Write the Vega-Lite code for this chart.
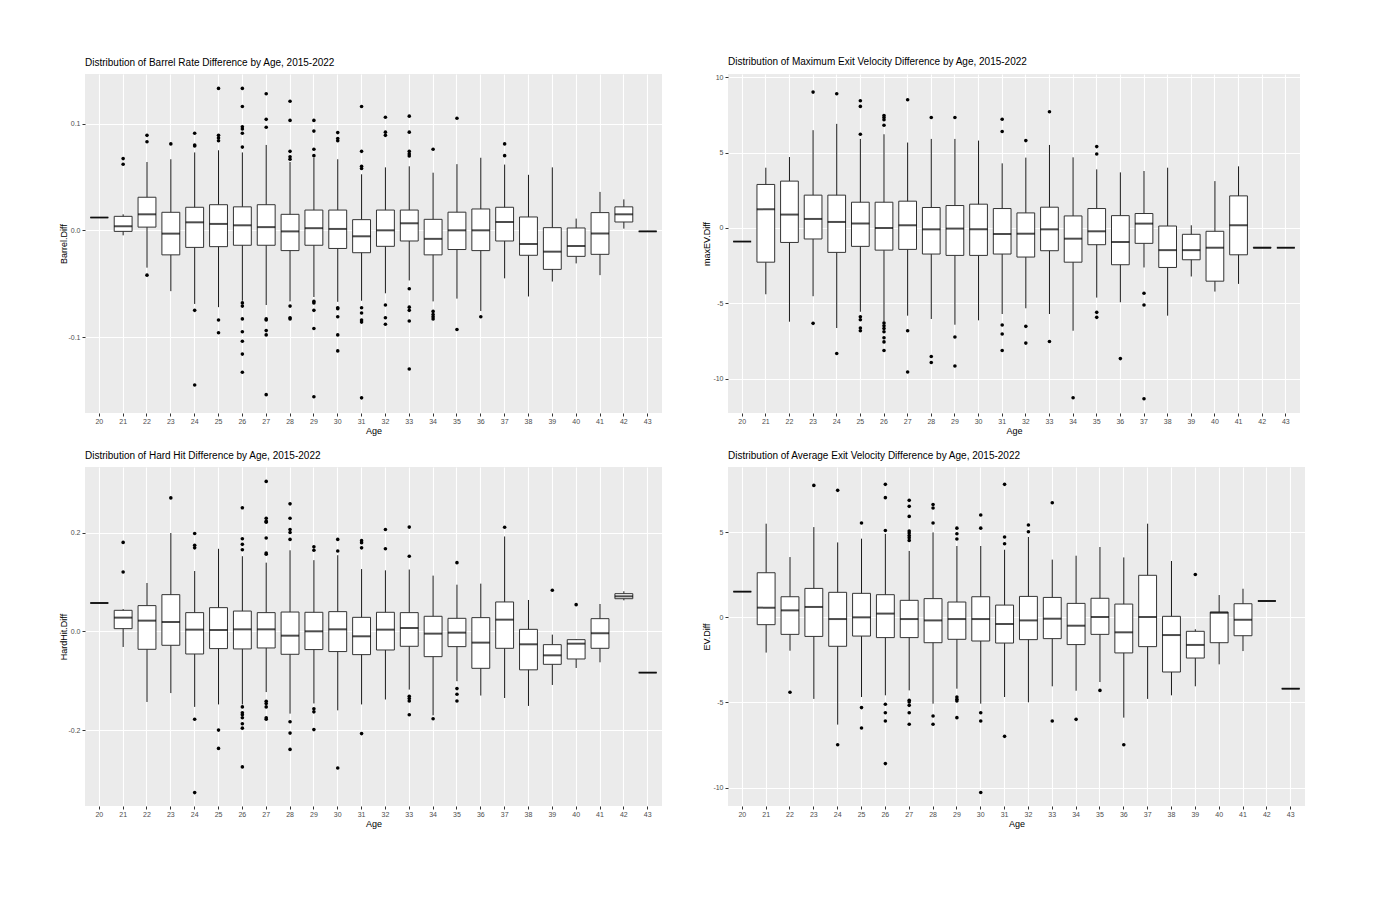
{
  "$schema": "https://vega.github.io/schema/vega-lite/v6.json",
  "padding": {"left": 59, "top": 57, "right": 5, "bottom": 5},
  "background": "white",
  "datasets": {
    "barrel": [
      {"age": 20, "lo": 0.012, "q1": 0.012, "med": 0.012, "q3": 0.012, "hi": 0.012, "out": []},
      {"age": 21, "lo": -0.0047, "q1": -0.001, "med": 0.0038, "q3": 0.0131, "hi": 0.015, "out": [0.0672, 0.0619]},
      {"age": 22, "lo": -0.035, "q1": 0.003, "med": 0.015, "q3": 0.031, "hi": 0.064, "out": [0.089, 0.083, -0.042]},
      {"age": 23, "lo": -0.057, "q1": -0.023, "med": -0.0031, "q3": 0.0169, "hi": 0.0666, "out": [0.081]},
      {"age": 24, "lo": -0.069, "q1": -0.016, "med": 0.0075, "q3": 0.0216, "hi": 0.073, "out": [0.091, 0.08, 0.079, -0.075, -0.145]},
      {"age": 25, "lo": -0.072, "q1": -0.0153, "med": 0.006, "q3": 0.024, "hi": 0.075, "out": [0.133, 0.089, 0.0866, 0.084, -0.084, -0.096]},
      {"age": 26, "lo": -0.066, "q1": -0.014, "med": 0.0047, "q3": 0.022, "hi": 0.073, "out": [0.133, 0.116, 0.097, 0.095, 0.091, 0.078, -0.068, -0.071, -0.083, -0.095, -0.104, -0.116, -0.133]},
      {"age": 27, "lo": -0.07, "q1": -0.014, "med": 0.003, "q3": 0.024, "hi": 0.08, "out": [0.128, 0.104, 0.0966, -0.083, -0.084, -0.094, -0.098, -0.154]},
      {"age": 28, "lo": -0.0666, "q1": -0.019, "med": -0.001, "q3": 0.015, "hi": 0.064, "out": [0.121, 0.103, 0.074, 0.069, 0.0666, -0.071, -0.082, -0.083]},
      {"age": 29, "lo": -0.0625, "q1": -0.014, "med": 0.002, "q3": 0.019, "hi": 0.068, "out": [0.103, 0.093, 0.076, 0.07, -0.0666, -0.068, -0.075, -0.092, -0.156]},
      {"age": 30, "lo": -0.067, "q1": -0.017, "med": 0.0013, "q3": 0.019, "hi": 0.0666, "out": [0.0916, 0.086, 0.084, -0.0725, -0.0734, -0.081, -0.098, -0.113]},
      {"age": 31, "lo": -0.066, "q1": -0.021, "med": -0.0056, "q3": 0.01, "hi": 0.0525, "out": [0.116, 0.074, 0.06, 0.058, -0.0725, -0.0775, -0.084, -0.086, -0.157]},
      {"age": 32, "lo": -0.059, "q1": -0.015, "med": 0.0, "q3": 0.019, "hi": 0.059, "out": [0.106, 0.092, 0.089, -0.07, -0.082, -0.088]},
      {"age": 33, "lo": -0.047, "q1": -0.01, "med": 0.0066, "q3": 0.019, "hi": 0.06, "out": [0.107, 0.092, 0.074, 0.0716, 0.0697, -0.0547, -0.072, -0.075, -0.085, -0.13]},
      {"age": 34, "lo": -0.0666, "q1": -0.023, "med": -0.008, "q3": 0.0103, "hi": 0.054, "out": [0.076, -0.076, -0.079, -0.081, -0.083]},
      {"age": 35, "lo": -0.064, "q1": -0.018, "med": 0.0, "q3": 0.017, "hi": 0.062, "out": [0.105, -0.093]},
      {"age": 36, "lo": -0.0756, "q1": -0.019, "med": 0.0, "q3": 0.02, "hi": 0.068, "out": [-0.081]},
      {"age": 37, "lo": -0.045, "q1": -0.01, "med": 0.0078, "q3": 0.0216, "hi": 0.0616, "out": [0.081, 0.07]},
      {"age": 38, "lo": -0.062, "q1": -0.0234, "med": -0.0128, "q3": 0.0125, "hi": 0.052, "out": []},
      {"age": 39, "lo": -0.048, "q1": -0.0366, "med": -0.02, "q3": 0.0025, "hi": 0.059, "out": []},
      {"age": 40, "lo": -0.031, "q1": -0.0244, "med": -0.0147, "q3": 0.0022, "hi": 0.011, "out": []},
      {"age": 41, "lo": -0.042, "q1": -0.0225, "med": -0.003, "q3": 0.0166, "hi": 0.036, "out": []},
      {"age": 42, "lo": 0.0016, "q1": 0.0078, "med": 0.015, "q3": 0.022, "hi": 0.029, "out": []},
      {"age": 43, "lo": -0.001, "q1": -0.001, "med": -0.001, "q3": -0.001, "hi": -0.001, "out": []}
    ],
    "maxev": [
      {"age": 20, "lo": -0.9, "q1": -0.9, "med": -0.9, "q3": -0.9, "hi": -0.9, "out": []},
      {"age": 21, "lo": -4.4, "q1": -2.27, "med": 1.24, "q3": 2.89, "hi": 4.0, "out": []},
      {"age": 22, "lo": -6.22, "q1": -0.96, "med": 0.89, "q3": 3.11, "hi": 4.71, "out": []},
      {"age": 23, "lo": -4.53, "q1": -0.73, "med": 0.6, "q3": 2.18, "hi": 6.49, "out": [9.02, -6.33]},
      {"age": 24, "lo": -6.64, "q1": -1.62, "med": 0.4, "q3": 2.18, "hi": 6.91, "out": [8.91, -8.33]},
      {"age": 25, "lo": -5.56, "q1": -1.22, "med": 0.29, "q3": 1.71, "hi": 5.91, "out": [8.44, 8.07, 6.22, -5.89, -6.09, -6.64, -6.82]},
      {"age": 26, "lo": -6.22, "q1": -1.47, "med": 0.0, "q3": 1.71, "hi": 6.22, "out": [7.47, 7.33, 7.18, 6.82, -6.31, -6.49, -6.67, -6.89, -7.29, -7.56, -8.13]},
      {"age": 27, "lo": -5.82, "q1": -1.42, "med": 0.18, "q3": 1.78, "hi": 5.67, "out": [8.51, -6.82, -9.56]},
      {"age": 28, "lo": -6.04, "q1": -1.73, "med": -0.09, "q3": 1.36, "hi": 5.91, "out": [7.33, -8.53, -8.93]},
      {"age": 29, "lo": -6.42, "q1": -1.82, "med": -0.04, "q3": 1.49, "hi": 5.91, "out": [7.33, -7.24, -9.16]},
      {"age": 30, "lo": -6.13, "q1": -1.82, "med": -0.09, "q3": 1.58, "hi": 5.8, "out": []},
      {"age": 31, "lo": -5.71, "q1": -1.73, "med": -0.4, "q3": 1.29, "hi": 4.29, "out": [7.22, 6.4, -6.44, -7.04, -8.13]},
      {"age": 32, "lo": -5.33, "q1": -1.93, "med": -0.38, "q3": 1.0, "hi": 4.67, "out": [5.8, -6.53, -7.64]},
      {"age": 33, "lo": -5.71, "q1": -1.51, "med": -0.09, "q3": 1.38, "hi": 5.51, "out": [7.71, -7.53]},
      {"age": 34, "lo": -6.82, "q1": -2.27, "med": -0.71, "q3": 0.8, "hi": 4.69, "out": [-11.27]},
      {"age": 35, "lo": -4.62, "q1": -1.11, "med": -0.22, "q3": 1.29, "hi": 3.89, "out": [5.4, 4.91, -5.6, -5.93]},
      {"age": 36, "lo": -4.93, "q1": -2.44, "med": -0.93, "q3": 0.82, "hi": 3.69, "out": [-8.67]},
      {"age": 37, "lo": -2.62, "q1": -1.02, "med": 0.29, "q3": 0.96, "hi": 3.78, "out": [-4.33, -5.11, -11.33]},
      {"age": 38, "lo": -5.82, "q1": -2.62, "med": -1.47, "q3": 0.13, "hi": 4.0, "out": []},
      {"age": 39, "lo": -3.22, "q1": -2.11, "med": -1.47, "q3": -0.42, "hi": 0.18, "out": []},
      {"age": 40, "lo": -4.22, "q1": -3.53, "med": -1.31, "q3": -0.22, "hi": 3.11, "out": []},
      {"age": 41, "lo": -3.71, "q1": -1.78, "med": 0.18, "q3": 2.13, "hi": 4.09, "out": []},
      {"age": 42, "lo": -1.33, "q1": -1.33, "med": -1.31, "q3": -1.29, "hi": -1.29, "out": []},
      {"age": 43, "lo": -1.31, "q1": -1.31, "med": -1.31, "q3": -1.31, "hi": -1.31, "out": []}
    ],
    "hardhit": [
      {"age": 20, "lo": 0.0573, "q1": 0.0573, "med": 0.0573, "q3": 0.0573, "hi": 0.0573, "out": []},
      {"age": 21, "lo": -0.0317, "q1": 0.0054, "med": 0.0277, "q3": 0.0425, "hi": 0.045, "out": [0.18, 0.12]},
      {"age": 22, "lo": -0.143, "q1": -0.0364, "med": 0.0216, "q3": 0.052, "hi": 0.0978, "out": []},
      {"age": 23, "lo": -0.125, "q1": -0.0283, "med": 0.0189, "q3": 0.0742, "hi": 0.199, "out": [0.27]},
      {"age": 24, "lo": -0.153, "q1": -0.0459, "med": 0.0034, "q3": 0.0378, "hi": 0.122, "out": [0.198, 0.174, 0.169, -0.178, -0.3265]},
      {"age": 25, "lo": -0.148, "q1": -0.035, "med": 0.0027, "q3": 0.0479, "hi": 0.167, "out": [-0.2, -0.237]},
      {"age": 26, "lo": -0.148, "q1": -0.0357, "med": 0.004, "q3": 0.041, "hi": 0.152, "out": [0.25, 0.1875, 0.176, 0.165, -0.153, -0.165, -0.169, -0.175, -0.187, -0.196, -0.2745]},
      {"age": 27, "lo": -0.123, "q1": -0.0337, "med": 0.004, "q3": 0.0378, "hi": 0.139, "out": [0.3035, 0.229, 0.223, 0.221, 0.189, 0.1585, 0.156, -0.1417, -0.146, -0.153, -0.175, -0.178]},
      {"age": 28, "lo": -0.1666, "q1": -0.0465, "med": -0.0088, "q3": 0.039, "hi": 0.164, "out": [0.258, 0.229, 0.206, 0.2, 0.186, -0.183, -0.206, -0.239]},
      {"age": 29, "lo": -0.146, "q1": -0.037, "med": 0.0, "q3": 0.0385, "hi": 0.144, "out": [0.171, 0.164, -0.157, -0.163, -0.199]},
      {"age": 30, "lo": -0.16, "q1": -0.041, "med": 0.004, "q3": 0.0398, "hi": 0.154, "out": [0.186, 0.1625, -0.2766]},
      {"age": 31, "lo": -0.148, "q1": -0.0472, "med": -0.0101, "q3": 0.0283, "hi": 0.126, "out": [0.1835, 0.1794, 0.169, -0.207]},
      {"age": 32, "lo": -0.138, "q1": -0.0378, "med": 0.0034, "q3": 0.0385, "hi": 0.1234, "out": [0.206, 0.167]},
      {"age": 33, "lo": -0.118, "q1": -0.0303, "med": 0.0067, "q3": 0.0378, "hi": 0.125, "out": [0.211, 0.152, -0.1315, -0.136, -0.141, -0.169]},
      {"age": 34, "lo": -0.17, "q1": -0.0513, "med": -0.0047, "q3": 0.0304, "hi": 0.1127, "out": [-0.177]},
      {"age": 35, "lo": -0.101, "q1": -0.031, "med": -0.0027, "q3": 0.0263, "hi": 0.0944, "out": [0.139, -0.116, -0.1275, -0.141]},
      {"age": 36, "lo": -0.13, "q1": -0.0749, "med": -0.0229, "q3": 0.0277, "hi": 0.0965, "out": []},
      {"age": 37, "lo": -0.135, "q1": -0.0344, "med": 0.0236, "q3": 0.0594, "hi": 0.192, "out": [0.2105]},
      {"age": 38, "lo": -0.151, "q1": -0.078, "med": -0.0263, "q3": 0.004, "hi": 0.0634, "out": []},
      {"age": 39, "lo": -0.1086, "q1": -0.0668, "med": -0.0486, "q3": -0.027, "hi": -0.0067, "out": [0.083]},
      {"age": 40, "lo": -0.0742, "q1": -0.056, "med": -0.025, "q3": -0.0169, "hi": -0.016, "out": [0.054]},
      {"age": 41, "lo": -0.0627, "q1": -0.0344, "med": -0.004, "q3": 0.0256, "hi": 0.0553, "out": []},
      {"age": 42, "lo": 0.0627, "q1": 0.066, "med": 0.0708, "q3": 0.0762, "hi": 0.081, "out": []},
      {"age": 43, "lo": -0.0836, "q1": -0.0836, "med": -0.0836, "q3": -0.0836, "hi": -0.0836, "out": []}
    ],
    "ev": [
      {"age": 20, "lo": 1.51, "q1": 1.51, "med": 1.51, "q3": 1.51, "hi": 1.51, "out": []},
      {"age": 21, "lo": -2.07, "q1": -0.43, "med": 0.57, "q3": 2.62, "hi": 5.5, "out": []},
      {"age": 22, "lo": -1.96, "q1": -1.0, "med": 0.41, "q3": 1.21, "hi": 3.54, "out": [-4.4]},
      {"age": 23, "lo": -4.79, "q1": -1.12, "med": 0.61, "q3": 1.7, "hi": 5.3, "out": [7.75]},
      {"age": 24, "lo": -6.3, "q1": -1.7, "med": -0.1, "q3": 1.47, "hi": 4.4, "out": [7.46, -7.48]},
      {"age": 25, "lo": -4.68, "q1": -1.1, "med": 0.0, "q3": 1.41, "hi": 4.62, "out": [5.54, -5.3, -6.5]},
      {"age": 26, "lo": -4.58, "q1": -1.19, "med": 0.22, "q3": 1.33, "hi": 4.9, "out": [7.81, 7.03, 5.1, -5.1, -5.6, -6.09, -8.59]},
      {"age": 27, "lo": -4.29, "q1": -1.19, "med": -0.1, "q3": 1.0, "hi": 3.9, "out": [6.87, 6.52, 5.93, 5.07, 4.95, 4.81, 4.68, 4.52, -4.87, -4.97, -5.17, -5.6, -6.28]},
      {"age": 28, "lo": -5.07, "q1": -1.49, "med": -0.18, "q3": 1.1, "hi": 4.99, "out": [6.63, 6.42, 5.54, -5.79, -6.28]},
      {"age": 29, "lo": -4.19, "q1": -1.29, "med": -0.1, "q3": 0.9, "hi": 4.19, "out": [5.24, 4.91, 4.6, -4.68, -4.81, -4.91, -5.89]},
      {"age": 30, "lo": -5.07, "q1": -1.39, "med": -0.1, "q3": 1.21, "hi": 4.19, "out": [6.01, 5.24, -5.6, -6.09, -10.29]},
      {"age": 31, "lo": -4.68, "q1": -1.51, "med": -0.39, "q3": 0.72, "hi": 3.97, "out": [7.81, 4.72, 4.32, -6.99]},
      {"age": 32, "lo": -4.99, "q1": -1.31, "med": -0.18, "q3": 1.23, "hi": 4.72, "out": [5.42, 5.03]},
      {"age": 33, "lo": -4.05, "q1": -1.25, "med": -0.08, "q3": 1.17, "hi": 3.39, "out": [6.73, -6.09]},
      {"age": 34, "lo": -4.31, "q1": -1.6, "med": -0.49, "q3": 0.82, "hi": 3.62, "out": [-5.99]},
      {"age": 35, "lo": -3.8, "q1": -1.0, "med": 0.02, "q3": 1.12, "hi": 4.13, "out": [-4.29]},
      {"age": 36, "lo": -5.89, "q1": -2.09, "med": -0.88, "q3": 0.78, "hi": 3.52, "out": [-7.48]},
      {"age": 37, "lo": -4.79, "q1": -1.72, "med": 0.02, "q3": 2.47, "hi": 5.5, "out": []},
      {"age": 38, "lo": -4.58, "q1": -3.21, "med": -1.04, "q3": 0.06, "hi": 3.31, "out": []},
      {"age": 39, "lo": -4.05, "q1": -2.39, "med": -1.62, "q3": -0.82, "hi": -0.7, "out": [2.52]},
      {"age": 40, "lo": -2.76, "q1": -1.49, "med": 0.27, "q3": 0.31, "hi": 1.31, "out": []},
      {"age": 41, "lo": -1.98, "q1": -1.08, "med": -0.14, "q3": 0.8, "hi": 1.68, "out": []},
      {"age": 42, "lo": 0.96, "q1": 0.96, "med": 0.96, "q3": 0.96, "hi": 0.96, "out": []},
      {"age": 43, "lo": -4.19, "q1": -4.19, "med": -4.19, "q3": -4.19, "hi": -4.19, "out": []}
    ]
  },
  "concat": [
    {
      "width": 577, "height": 339,
      "data": {"name": "barrel"},
      "title": {"text": "Distribution of Barrel Rate Difference by Age, 2015-2022"},
      "encoding": {"x": {"field": "age", "type": "ordinal", "title": "Age", "scale": {"paddingInner": 0.25, "paddingOuter": 0.225}}},
      "layer": [
        {"mark": {"type": "rule", "color": "#1a1a1a", "strokeWidth": 1},
         "encoding": {"y": {"field": "lo", "type": "quantitative", "title": "Barrel.Diff", "scale": {"domain": [-0.1712, 0.1465], "nice": false, "zero": false}, "axis": {"values": [-0.1, 0, 0.1], "labelExpr": "replace(format(datum.value, '.1f'), '\u2212', '-')"}}, "y2": {"field": "hi"}}},
        {"mark": {"type": "bar", "fill": "white", "stroke": "#333333", "strokeWidth": 1},
         "encoding": {"y": {"field": "q1", "type": "quantitative", "axis": {"orient": "left", "values": [-0.15, -0.05, 0.05], "labels": false, "ticks": false, "domain": false, "title": null, "gridWidth": 0.5, "minExtent": 0, "maxExtent": 0}}, "y2": {"field": "q3"}}},
        {"mark": {"type": "tick", "color": "black", "thickness": 2, "size": 18},
         "encoding": {"y": {"field": "med", "type": "quantitative", "axis": null}}},
        {"transform": [{"flatten": ["out"]}],
         "mark": {"type": "point", "filled": true, "color": "black", "opacity": 1, "size": 13},
         "encoding": {"y": {"field": "out", "type": "quantitative", "axis": null}}}
      ],
      "resolve": {"axis": {"y": "independent"}}
    },
    {
      "width": 572, "height": 339,
      "data": {"name": "maxev"},
      "title": {"text": "Distribution of Maximum Exit Velocity Difference by Age, 2015-2022"},
      "encoding": {"x": {"field": "age", "type": "ordinal", "title": "Age", "scale": {"paddingInner": 0.25, "paddingOuter": 0.225}}},
      "layer": [
        {"mark": {"type": "rule", "color": "#1a1a1a", "strokeWidth": 1},
         "encoding": {"y": {"field": "lo", "type": "quantitative", "title": "maxEV.Diff", "scale": {"domain": [-12.28, 10.22], "nice": false, "zero": false}, "axis": {"values": [-10, -5, 0, 5, 10], "labelExpr": "replace(format(datum.value, 'd'), '\u2212', '-')"}}, "y2": {"field": "hi"}}},
        {"mark": {"type": "bar", "fill": "white", "stroke": "#333333", "strokeWidth": 1},
         "encoding": {"y": {"field": "q1", "type": "quantitative", "axis": {"orient": "left", "values": [-7.5, -2.5, 2.5, 7.5], "labels": false, "ticks": false, "domain": false, "title": null, "gridWidth": 0.5, "minExtent": 0, "maxExtent": 0}}, "y2": {"field": "q3"}}},
        {"mark": {"type": "tick", "color": "black", "thickness": 2, "size": 18},
         "encoding": {"y": {"field": "med", "type": "quantitative", "axis": null}}},
        {"transform": [{"flatten": ["out"]}],
         "mark": {"type": "point", "filled": true, "color": "black", "opacity": 1, "size": 13},
         "encoding": {"y": {"field": "out", "type": "quantitative", "axis": null}}}
      ],
      "resolve": {"axis": {"y": "independent"}}
    },
    {
      "width": 577, "height": 339,
      "data": {"name": "hardhit"},
      "title": {"text": "Distribution of Hard Hit Difference by Age, 2015-2022"},
      "encoding": {"x": {"field": "age", "type": "ordinal", "title": "Age", "scale": {"paddingInner": 0.25, "paddingOuter": 0.225}}},
      "layer": [
        {"mark": {"type": "rule", "color": "#1a1a1a", "strokeWidth": 1},
         "encoding": {"y": {"field": "lo", "type": "quantitative", "title": "HardHit.Diff", "scale": {"domain": [-0.3536, 0.3326], "nice": false, "zero": false}, "axis": {"values": [-0.2, 0, 0.2], "labelExpr": "replace(format(datum.value, '.1f'), '\u2212', '-')"}}, "y2": {"field": "hi"}}},
        {"mark": {"type": "bar", "fill": "white", "stroke": "#333333", "strokeWidth": 1},
         "encoding": {"y": {"field": "q1", "type": "quantitative", "axis": {"orient": "left", "values": [-0.3, -0.1, 0.1, 0.3], "labels": false, "ticks": false, "domain": false, "title": null, "gridWidth": 0.5, "minExtent": 0, "maxExtent": 0}}, "y2": {"field": "q3"}}},
        {"mark": {"type": "tick", "color": "black", "thickness": 2, "size": 18},
         "encoding": {"y": {"field": "med", "type": "quantitative", "axis": null}}},
        {"transform": [{"flatten": ["out"]}],
         "mark": {"type": "point", "filled": true, "color": "black", "opacity": 1, "size": 13},
         "encoding": {"y": {"field": "out", "type": "quantitative", "axis": null}}}
      ],
      "resolve": {"axis": {"y": "independent"}}
    },
    {
      "width": 577, "height": 339,
      "data": {"name": "ev"},
      "title": {"text": "Distribution of Average Exit Velocity Difference by Age, 2015-2022"},
      "encoding": {"x": {"field": "age", "type": "ordinal", "title": "Age", "scale": {"paddingInner": 0.25, "paddingOuter": 0.225}}},
      "layer": [
        {"mark": {"type": "rule", "color": "#1a1a1a", "strokeWidth": 1},
         "encoding": {"y": {"field": "lo", "type": "quantitative", "title": "EV.Diff", "scale": {"domain": [-11.08, 8.83], "nice": false, "zero": false}, "axis": {"values": [-10, -5, 0, 5], "labelExpr": "replace(format(datum.value, 'd'), '\u2212', '-')"}}, "y2": {"field": "hi"}}},
        {"mark": {"type": "bar", "fill": "white", "stroke": "#333333", "strokeWidth": 1},
         "encoding": {"y": {"field": "q1", "type": "quantitative", "axis": {"orient": "left", "values": [-7.5, -2.5, 2.5, 7.5], "labels": false, "ticks": false, "domain": false, "title": null, "gridWidth": 0.5, "minExtent": 0, "maxExtent": 0}}, "y2": {"field": "q3"}}},
        {"mark": {"type": "tick", "color": "black", "thickness": 2, "size": 18},
         "encoding": {"y": {"field": "med", "type": "quantitative", "axis": null}}},
        {"transform": [{"flatten": ["out"]}],
         "mark": {"type": "point", "filled": true, "color": "black", "opacity": 1, "size": 13},
         "encoding": {"y": {"field": "out", "type": "quantitative", "axis": null}}}
      ],
      "resolve": {"axis": {"y": "independent"}}
    }
  ],
  "columns": 2,
  "spacing": {"row": 54, "column": 66},
  "bounds": "flush",
  "config": {
    "font": "Liberation Sans",
    "view": {"fill": "#EBEBEB", "stroke": null},
    "axis": {"domain": false, "grid": true, "gridColor": "#FFFFFF", "gridWidth": 1.1, "tickColor": "#333333", "tickSize": 3, "labelColor": "#4D4D4D", "labelFontSize": 7, "titleFontSize": 9, "titleFontWeight": "normal", "titleColor": "#000000"},
    "axisX": {"labelAngle": 0, "labelPadding": 1, "titlePadding": 2, "bandPosition": 0.5},
    "axisY": {"labelPadding": 2, "titlePadding": 1, "minExtent": 16, "maxExtent": 16},
    "title": {"fontSize": 10, "fontWeight": "normal", "anchor": "start", "frame": "group", "baseline": "alphabetic", "offset": 6, "color": "#000000"}
  }
}
